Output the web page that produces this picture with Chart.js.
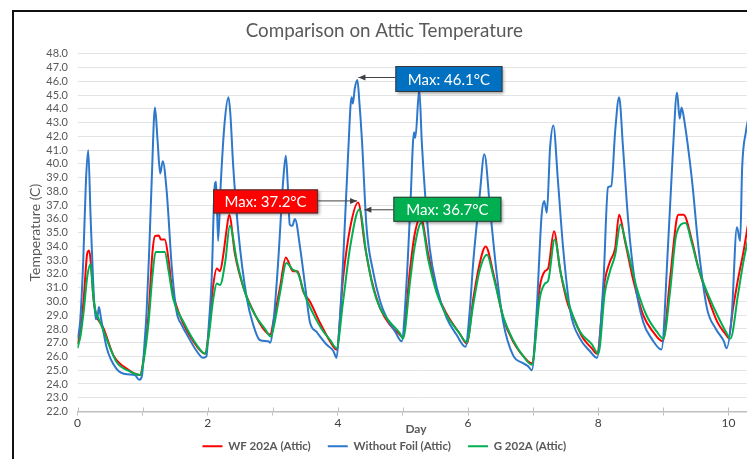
<!DOCTYPE html>
<html>
<head>
<meta charset="utf-8">
<script src="https://cdn.jsdelivr.net/npm/chart.js@4.4.1/dist/chart.umd.min.js"></script>
<style>
  html, body { margin: 0; padding: 0; background: #fff; overflow: hidden; }
  #frame { position: absolute; left: 12px; top: 10px; width: 760px; height: 470px;
           border-left: 2px solid #111; border-top: 2px solid #111; }
  #chart { display: block; }
</style>
</head>
<body>
<div id="frame"><canvas id="chart" width="750" height="458"></canvas></div>
<script>
// days / temperatures (C)
const wfDays = [0, 0.05, 0.1, 0.15, 0.18, 0.21, 0.25, 0.29, 0.4, 0.55, 0.76, 0.96,
  1.02, 1.09, 1.15, 1.19, 1.25, 1.28, 1.34, 1.4, 1.45, 1.57, 1.78, 1.96,
  2.02, 2.08, 2.14, 2.19, 2.24, 2.29, 2.33, 2.42, 2.55, 2.68, 2.85, 2.96,
  3.02, 3.11, 3.2, 3.31, 3.38, 3.47, 3.57, 3.72, 3.88, 3.98,
  4.08, 4.19, 4.31, 4.42, 4.52, 4.65, 4.8, 4.95, 4.99,
  5.11, 5.18, 5.27, 5.39, 5.52, 5.67, 5.88, 5.98,
  6.08, 6.18, 6.27, 6.39, 6.54, 6.69, 6.9, 6.98,
  7.1, 7.18, 7.23, 7.32, 7.41, 7.52, 7.62, 7.77, 7.9, 7.98,
  8.1, 8.18, 8.26, 8.32, 8.41, 8.54, 8.69, 8.84, 8.99,
  9.1, 9.2, 9.23, 9.31, 9.44, 9.54, 9.67, 9.83, 9.96, 10.0,
  10.07, 10.15, 10.23, 10.3];
const wfTemps = [26.9, 28.0, 30.5, 33.5, 33.7, 32.5, 30.0, 29.0, 28.05, 26.1, 25.1, 24.65,
  26.0, 29.0, 33.5, 34.75, 34.8, 34.5, 34.5, 33.0, 31.0, 29.0, 27.1, 26.2,
  28.0, 31.0, 32.4, 32.2, 33.4, 35.2, 36.3, 33.4, 31.0, 29.5, 28.05, 27.6,
  28.8, 31.0, 33.2, 32.2, 32.2, 30.7, 30.0, 28.5, 27.1, 26.5,
  31.7, 35.4, 37.2, 33.9, 31.5, 29.5, 28.3, 27.6, 27.4,
  32.4, 34.9, 36.1, 33.4, 30.7, 29.1, 27.6, 26.95,
  30.2, 32.8, 34.0, 32.0, 28.8, 27.1, 25.75, 25.5,
  31.0, 32.2, 32.4, 35.1, 32.4, 30.0, 28.8, 27.3, 26.6, 26.2,
  31.5, 32.9, 33.9, 36.3, 34.4, 31.5, 29.0, 27.8, 27.1,
  31.5, 35.85, 36.3, 36.3, 34.4, 32.4, 30.5, 28.5, 27.6, 27.35,
  29.5, 31.7, 33.6, 35.6];

const noFoilDays = [0, 0.04, 0.09, 0.13, 0.165, 0.2, 0.24, 0.28, 0.31, 0.33, 0.36, 0.45, 0.6, 0.76, 0.88, 0.95,
  0.99, 1.03, 1.06, 1.1, 1.14, 1.19, 1.23, 1.27, 1.31, 1.37, 1.45, 1.52, 1.6, 1.68, 1.83, 1.93,
  1.98, 2.02, 2.06, 2.11, 2.13, 2.16, 2.2, 2.26, 2.32, 2.35, 2.39, 2.47, 2.6, 2.7, 2.8, 2.93, 2.96,
  3.02, 3.08, 3.16, 3.2, 3.23, 3.26, 3.3, 3.34, 3.42, 3.5, 3.57, 3.67, 3.83, 3.93, 3.98,
  4.02, 4.08, 4.16, 4.21, 4.23, 4.26, 4.3, 4.33, 4.37, 4.44, 4.54, 4.65, 4.75, 4.88, 4.98,
  5.05, 5.11, 5.17, 5.19, 5.25, 5.29, 5.34, 5.41, 5.52, 5.67, 5.82, 5.96,
  6.02, 6.08, 6.18, 6.25, 6.34, 6.44, 6.54, 6.69, 6.85, 6.92, 6.98,
  7.05, 7.13, 7.17, 7.21, 7.26, 7.31, 7.38, 7.46, 7.57, 7.72, 7.87, 7.98,
  8.08, 8.15, 8.2, 8.26, 8.32, 8.38, 8.46, 8.56, 8.69, 8.82, 8.97,
  9.07, 9.15, 9.21, 9.25, 9.28, 9.32, 9.44, 9.54, 9.67, 9.8, 9.93, 9.97,
  10.05, 10.13, 10.18, 10.21, 10.27, 10.3];
const noFoilTemps = [27.3, 28.5, 33.2, 38.8, 41.0, 36.3, 31.5, 28.7, 29.0, 29.6, 28.8, 26.6, 25.1, 24.7, 24.65, 24.3,
  24.6, 27.0, 29.1, 33.5, 38.8, 44.1, 41.7, 39.3, 40.2, 38.0, 32.4, 29.3, 28.3, 27.6, 26.4, 25.9,
  26.0, 28.5, 31.5, 38.5, 38.7, 34.4, 38.5, 43.0, 44.85, 43.5, 40.0, 35.1, 30.25, 28.3, 27.2, 27.1, 27.0,
  29.0, 32.7, 38.8, 40.6, 38.5, 35.6, 35.5, 36.0, 33.9, 31.0, 28.5, 27.8, 26.85, 26.4, 25.9,
  28.0, 32.9, 41.0, 44.85, 44.4, 45.5, 46.1, 44.5, 41.7, 35.4, 32.2, 30.0, 28.8, 27.8, 27.1,
  31.0, 36.6, 42.3, 41.9, 45.4, 41.5, 37.8, 33.9, 31.0, 28.8, 27.6, 26.7,
  29.0, 32.9, 37.8, 40.7, 36.6, 32.0, 28.5, 26.1, 25.5, 25.3, 25.0,
  29.0, 36.3, 37.3, 36.45, 41.2, 42.8, 38.8, 33.9, 29.3, 27.3, 26.4, 25.9,
  31.5, 38.3, 38.4, 42.4, 44.85, 41.2, 35.85, 31.5, 28.5, 27.3, 26.5,
  33.9, 41.2, 45.2, 43.3, 44.1, 43.2, 38.8, 33.9, 29.5, 28.05, 27.1, 26.6,
  29.0, 35.4, 34.4, 39.7, 42.4, 43.2];

const gDays = [0, 0.05, 0.1, 0.15, 0.2, 0.24, 0.28, 0.32, 0.42, 0.6, 0.81, 0.96,
  1.02, 1.09, 1.15, 1.2, 1.34, 1.4, 1.47, 1.63, 1.83, 1.96,
  2.02, 2.08, 2.14, 2.19, 2.27, 2.34, 2.45, 2.57, 2.73, 2.88, 2.97,
  3.03, 3.11, 3.21, 3.31, 3.38, 3.49, 3.6, 3.75, 3.88, 3.98,
  4.08, 4.19, 4.33, 4.44, 4.54, 4.65, 4.8, 4.95, 5.0,
  5.11, 5.18, 5.28, 5.39, 5.52, 5.67, 5.85, 5.98,
  6.08, 6.18, 6.29, 6.39, 6.54, 6.69, 6.85, 6.98,
  7.1, 7.18, 7.23, 7.33, 7.43, 7.57, 7.72, 7.9, 8.0,
  8.1, 8.18, 8.26, 8.34, 8.44, 8.59, 8.74, 8.9, 9.0,
  9.1, 9.2, 9.34, 9.44, 9.54, 9.67, 9.83, 9.96, 10.03,
  10.15, 10.23, 10.3];
const gTemps = [26.6, 27.6, 29.5, 31.8, 32.7, 30.5, 29.2, 28.8, 27.6, 25.6, 24.9, 24.65,
  25.8, 28.4, 31.8, 33.6, 33.6, 32.2, 30.2, 28.5, 26.85, 26.2,
  27.6, 30.0, 31.3, 31.2, 32.9, 35.5, 32.9, 30.7, 29.0, 28.0, 27.45,
  28.5, 30.6, 32.8, 32.3, 32.1, 30.5, 29.3, 28.0, 27.2, 26.6,
  30.0, 34.0, 36.7, 33.4, 31.0, 29.5, 28.5, 27.7, 27.3,
  31.5, 34.0, 35.7, 33.0, 30.6, 29.0, 27.8, 27.05,
  29.8, 32.3, 33.4, 31.8, 28.9, 27.2, 26.0, 25.4,
  30.2, 31.3, 31.5, 34.5, 31.9, 29.5, 27.8, 26.9, 26.2,
  30.6, 32.2, 33.4, 35.6, 33.9, 31.0, 29.0, 27.8, 27.3,
  30.6, 34.9, 35.7, 34.2, 32.4, 30.7, 29.0, 27.8, 27.3,
  30.6, 32.9, 34.5];

const seriesNames = ['WF 202A (Attic)', 'Without Foil (Attic)', 'G 202A (Attic)'];
const seriesColors = ['#FF0000', '#2E78CC', '#00B050'];
const noteColors = ['#FF0000', '#0070C0', '#00B050'];
const yMin = 22, yMax = 48, xMax = 10.4;

function pts(days, temps) {
  return days.map((d, i) => ({x: d, y: temps[i]}));
}

// boxes pointing at each series maximum
const notes = [
  {set: 1, side: 'right', dx: 1, dy: -3, gap: 37, w: 107, h: 26, shift: 2},
  {set: 0, side: 'left', dx: -1, dy: -2, gap: 39, w: 105, h: 24, shift: 1},
  {set: 2, side: 'right', dx: 5, dy: 0, gap: 29, w: 108, h: 25, shift: 0}
];

const notePlugin = {
  id: 'maxNotes',
  afterLayout(chart) {
    // pull the legend up closer to the axis, like the original
    chart.legend.top -= 8;
    chart.legend.bottom -= 8;
  },
  afterDatasetsDraw(chart) {
    const {ctx, scales: {x, y}} = chart;
    ctx.save();
    // cross tick marks on the category axis
    ctx.strokeStyle = '#bfbfbf';
    ctx.lineWidth = 1;
    x.ticks.forEach(t => {
      const px = Math.round(x.getPixelForValue(t.value)) + 0.5;
      ctx.beginPath();
      ctx.moveTo(px, y.bottom - 4);
      ctx.lineTo(px, y.bottom);
      ctx.stroke();
    });

    notes.forEach(n => {
      const data = chart.data.datasets[n.set].data;
      let top = data[0];
      data.forEach(p => { if (p.y > top.y) top = p; });
      const px = x.getPixelForValue(top.x) + n.dx;
      const py = y.getPixelForValue(top.y) + n.dy;
      const bx = n.side === 'right' ? px + n.gap : px - n.gap - n.w;
      const by = py + n.shift - n.h / 2;
      const ex = n.side === 'right' ? bx : bx + n.w;

      // arrow
      ctx.strokeStyle = '#404040';
      ctx.fillStyle = '#404040';
      ctx.lineWidth = 1;
      ctx.beginPath();
      ctx.moveTo(ex, py + 0.5);
      ctx.lineTo(px, py + 0.5);
      ctx.stroke();
      const dir = n.side === 'right' ? 1 : -1;
      ctx.beginPath();
      ctx.moveTo(px, py + 0.5);
      ctx.lineTo(px + dir * 7, py + 0.5 - 3);
      ctx.lineTo(px + dir * 7, py + 0.5 + 3);
      ctx.closePath();
      ctx.fill();

      // box
      ctx.save();
      ctx.shadowColor = 'rgba(0,0,0,0.4)';
      ctx.shadowBlur = 3;
      ctx.shadowOffsetX = 2;
      ctx.shadowOffsetY = 2;
      ctx.fillStyle = noteColors[n.set];
      ctx.fillRect(bx, by, n.w, n.h);
      ctx.restore();
      ctx.strokeStyle = '#3a3a3a';
      ctx.strokeRect(bx + 0.5, by + 0.5, n.w - 1, n.h - 1);

      ctx.fillStyle = '#ffffff';
      ctx.font = '15px Lato';
      ctx.textAlign = 'center';
      ctx.textBaseline = 'middle';
      ctx.fillText('Max: ' + top.y.toFixed(1) + '\u00B0C', bx + n.w / 2, by + n.h / 2 + 1);
    });
    ctx.restore();
  }
};

const datasets = [
  {label: seriesNames[0], data: pts(wfDays, wfTemps), order: 2},
  {label: seriesNames[1], data: pts(noFoilDays, noFoilTemps), order: 1},
  {label: seriesNames[2], data: pts(gDays, gTemps), order: 0}
].map((d, i) => Object.assign(d, {
  borderColor: seriesColors[i],
  backgroundColor: seriesColors[i],
  borderWidth: 2,
  pointRadius: 0,
  cubicInterpolationMode: 'monotone'
}));

new Chart(document.getElementById('chart'), {
  type: 'line',
  data: {datasets: datasets},
  options: {
    responsive: false,
    animation: false,
    devicePixelRatio: 1,
    layout: {padding: {left: 0, right: 9.5, top: 0, bottom: 0}},
    plugins: {
      title: {
        display: true,
        text: 'Comparison on Attic Temperature',
        color: '#595959',
        font: {family: 'Lato', size: 18.8, weight: 'normal'},
        padding: {top: 8, bottom: 11.3}
      },
      legend: {
        position: 'bottom',
        labels: {
          usePointStyle: true,
          pointStyle: 'line',
          pointStyleWidth: 20,
          boxHeight: 11,
          padding: 17,
          color: '#595959',
          font: {family: 'Lato', size: 11.5, weight: 'bold'},
          sort: (a, b) => a.datasetIndex - b.datasetIndex
        }
      },
      tooltip: {enabled: false}
    },
    scales: {
      x: {
        type: 'linear',
        min: 0,
        max: xMax,
        afterFit: s => { s.height = 20; },
        ticks: {
          stepSize: 1,
          includeBounds: false,
          autoSkip: false,
          maxRotation: 0,
          padding: 0,
          color: '#404040',
          font: {family: 'Lato', size: 12},
          callback: v => (v % 2 === 0 ? v : '')
        },
        grid: {drawOnChartArea: false, drawTicks: true, tickLength: 4, color: '#bfbfbf'},
        border: {color: '#bfbfbf', width: 1.5},
        title: {
          display: true,
          text: 'Day',
          color: '#595959',
          font: {family: 'Lato', size: 12, weight: 'bold'},
          padding: {top: 0, bottom: -4.7}
        }
      },
      y: {
        min: yMin,
        max: yMax,
        afterFit: s => { s.width = 63.5; },
        ticks: {
          stepSize: 1,
          autoSkip: false,
          padding: 9.5,
          color: '#595959',
          font: {family: 'Lato', size: 11},
          callback: v => v.toFixed(1)
        },
        grid: {drawTicks: false, color: '#e3e3e3', lineWidth: 1},
        border: {display: false},
        title: {
          display: true,
          text: 'Temperature (C)',
          color: '#595959',
          font: {family: 'Lato', size: 14},
          padding: {top: 12.6, bottom: 0}
        }
      }
    }
  },
  plugins: [notePlugin]
});
</script>
</body>
</html>
